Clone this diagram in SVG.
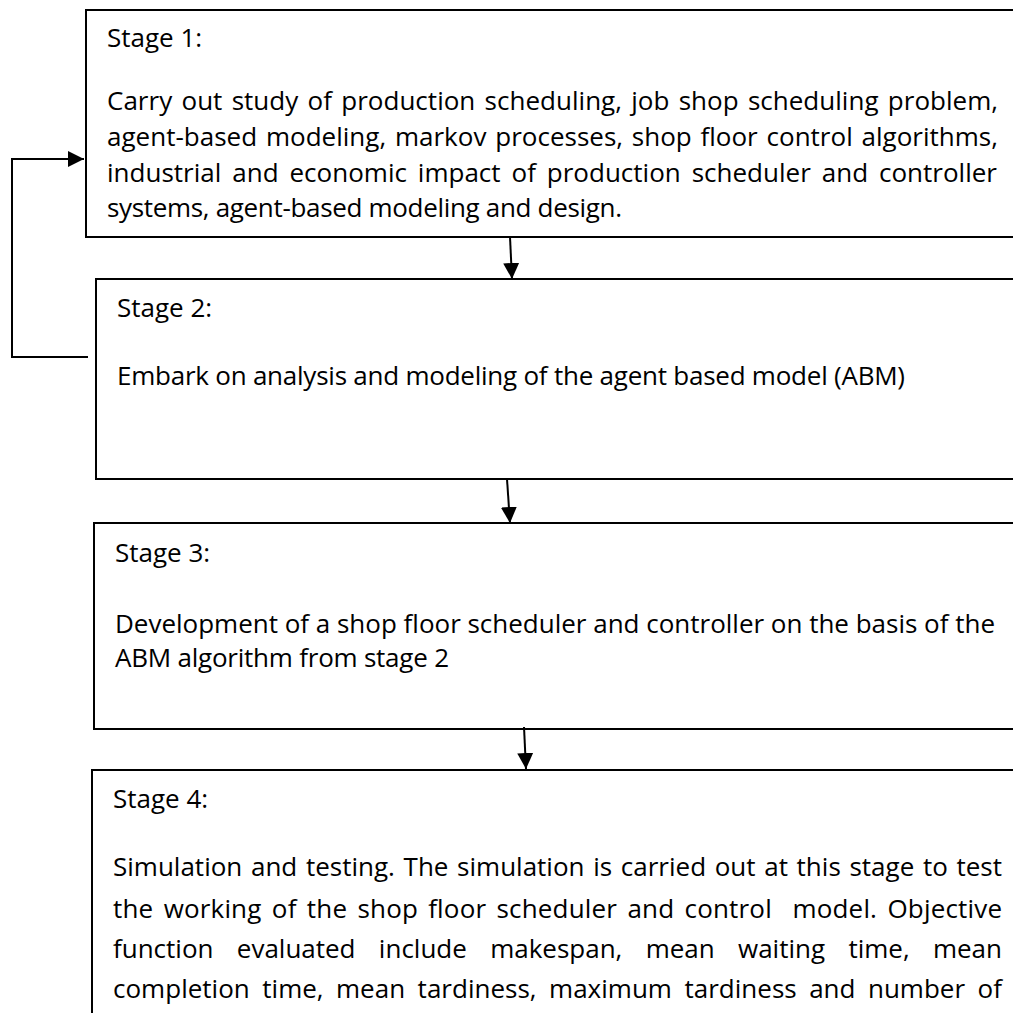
<svg xmlns="http://www.w3.org/2000/svg" width="1013" height="1013" viewBox="0 0 1013 1013">
  <style>
    .box { fill: #ffffff; stroke: #000000; stroke-width: 2; }
    .txt { font-family: "Open Sans", "Noto Sans", sans-serif; font-size: 26px; fill: #000000; }
    .pre { white-space: pre; }
    .link { fill: none; stroke: #000000; stroke-width: 2; }
  </style>
  <defs>
    <marker id="arrow" markerUnits="userSpaceOnUse" markerWidth="16" markerHeight="16" refX="16" refY="8" orient="auto">
      <path d="M0,0 L16,8 L0,16 Z" fill="#000000"/>
    </marker>
  </defs>
  <rect width="1013" height="1013" fill="#ffffff"/>

  <!-- justified lines: word-spacing opens the gaps, textLength trims the remainder -->
  <g id="stage1">
    <rect class="box" x="86" y="10" width="960" height="227"/>
    <text class="txt" x="107" y="47">Stage 1:</text>
    <text class="txt" x="107" y="110" word-spacing="2.5" textLength="891" lengthAdjust="spacing">Carry out study of production scheduling, job shop scheduling problem,</text>
    <text class="txt" x="107" y="146" word-spacing="2" textLength="891" lengthAdjust="spacing">agent-based modeling, markov processes, shop floor control algorithms,</text>
    <text class="txt" x="107" y="182" word-spacing="4.1" textLength="890" lengthAdjust="spacing">industrial and economic impact of production scheduler and controller</text>
    <text class="txt" x="107" y="217" textLength="515" lengthAdjust="spacing">systems, agent-based modeling and design.</text>
  </g>

  <g id="stage2">
    <rect class="box" x="96" y="279" width="950" height="200"/>
    <text class="txt" x="117" y="317">Stage 2:</text>
    <text class="txt" x="117" y="385" textLength="788" lengthAdjust="spacing">Embark on analysis and modeling of the agent based model (ABM)</text>
  </g>

  <g id="stage3">
    <rect class="box" x="94" y="523" width="950" height="206"/>
    <text class="txt" x="115" y="562">Stage 3:</text>
    <text class="txt" x="115" y="633" textLength="880" lengthAdjust="spacing">Development of a shop floor scheduler and controller on the basis of the</text>
    <text class="txt" x="115" y="667" textLength="334" lengthAdjust="spacing">ABM algorithm from stage 2</text>
  </g>

  <g id="stage4">
    <rect class="box" x="92" y="770" width="960" height="300"/>
    <text class="txt" x="113" y="808">Stage 4:</text>
    <text class="txt" x="113" y="876" word-spacing="1.9" textLength="889" lengthAdjust="spacing">Simulation and testing. The simulation is carried out at this stage to test</text>
    <text class="txt pre" x="113" y="918" word-spacing="3.4" textLength="889" lengthAdjust="spacing">the working of the shop floor scheduler and control  model. Objective</text>
    <text class="txt" x="113" y="958" word-spacing="16.6" textLength="889" lengthAdjust="spacing">function evaluated include makespan, mean waiting time, mean</text>
    <text class="txt" x="113" y="998" word-spacing="5.7" textLength="889" lengthAdjust="spacing">completion time, mean tardiness, maximum tardiness and number of</text>
  </g>

  <g id="connectors">
    <line class="link" x1="510" y1="237" x2="512" y2="279" marker-end="url(#arrow)"/>
    <line class="link" x1="507" y1="479" x2="510" y2="523" marker-end="url(#arrow)"/>
    <line class="link" x1="524" y1="727" x2="526" y2="769" marker-end="url(#arrow)"/>
    <path class="link" d="M88,357 H12 V159 H84" marker-end="url(#arrow)"/>
  </g>
</svg>
